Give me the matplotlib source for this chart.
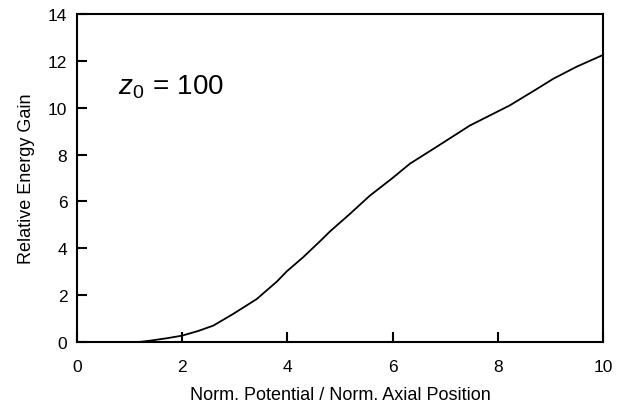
import numpy as np
import matplotlib.pyplot as plt

plt.rcParams['font.family'] = ['Liberation Sans', 'DejaVu Sans']
plt.rcParams['mathtext.fontset'] = 'custom'
plt.rcParams['mathtext.rm'] = 'Liberation Sans'
plt.rcParams['mathtext.it'] = 'Liberation Sans:italic'

# energy gain along the normalized axis
x_pos = [0, 0.5, 1.0, 1.2, 1.39, 1.7, 1.99, 2.3, 2.59, 2.97, 3.42, 3.8, 3.99,
         4.3, 4.62, 4.81, 5.19, 5.57, 6.0, 6.33, 6.9, 7.47, 8.23, 8.7, 9.06,
         9.5, 10.0]
gain = [0, 0, 0, 0.01, 0.06, 0.16, 0.27, 0.47, 0.70, 1.20, 1.84, 2.58, 3.02,
        3.62, 4.30, 4.72, 5.47, 6.25, 7.0, 7.61, 8.42, 9.24, 10.10, 10.74, 11.24,
        11.75, 12.25]

x_ticks = [0, 2, 4, 6, 8, 10]
y_ticks = [0, 2, 4, 6, 8, 10, 12, 14]

fig = plt.figure(figsize=(6.26, 4.06), dpi=100)
ax = fig.add_axes([0.123, 0.155, 0.840, 0.808])

ax.plot(x_pos, gain, color='black', lw=1.3)

ax.set_xlim(0, 10)
ax.set_ylim(0, 14)
ax.set_xticks(x_ticks)
ax.set_yticks(y_ticks)
ax.tick_params(direction='in', length=7.5, width=1.5, labelsize=12.5)
ax.tick_params(axis='x', pad=12)
ax.tick_params(axis='y', pad=7)
for s in ax.spines.values():
    s.set_linewidth(1.5)

ax.set_xlabel('Norm. Potential / Norm. Axial Position', fontsize=13, labelpad=9)
ax.set_ylabel('Relative Energy Gain', fontsize=13, labelpad=9)

ax.text(0.78, 10.9, r'$z_0\,=\,100$', fontsize=20, va='center', ha='left')

fig.savefig('out.png', dpi=100)
